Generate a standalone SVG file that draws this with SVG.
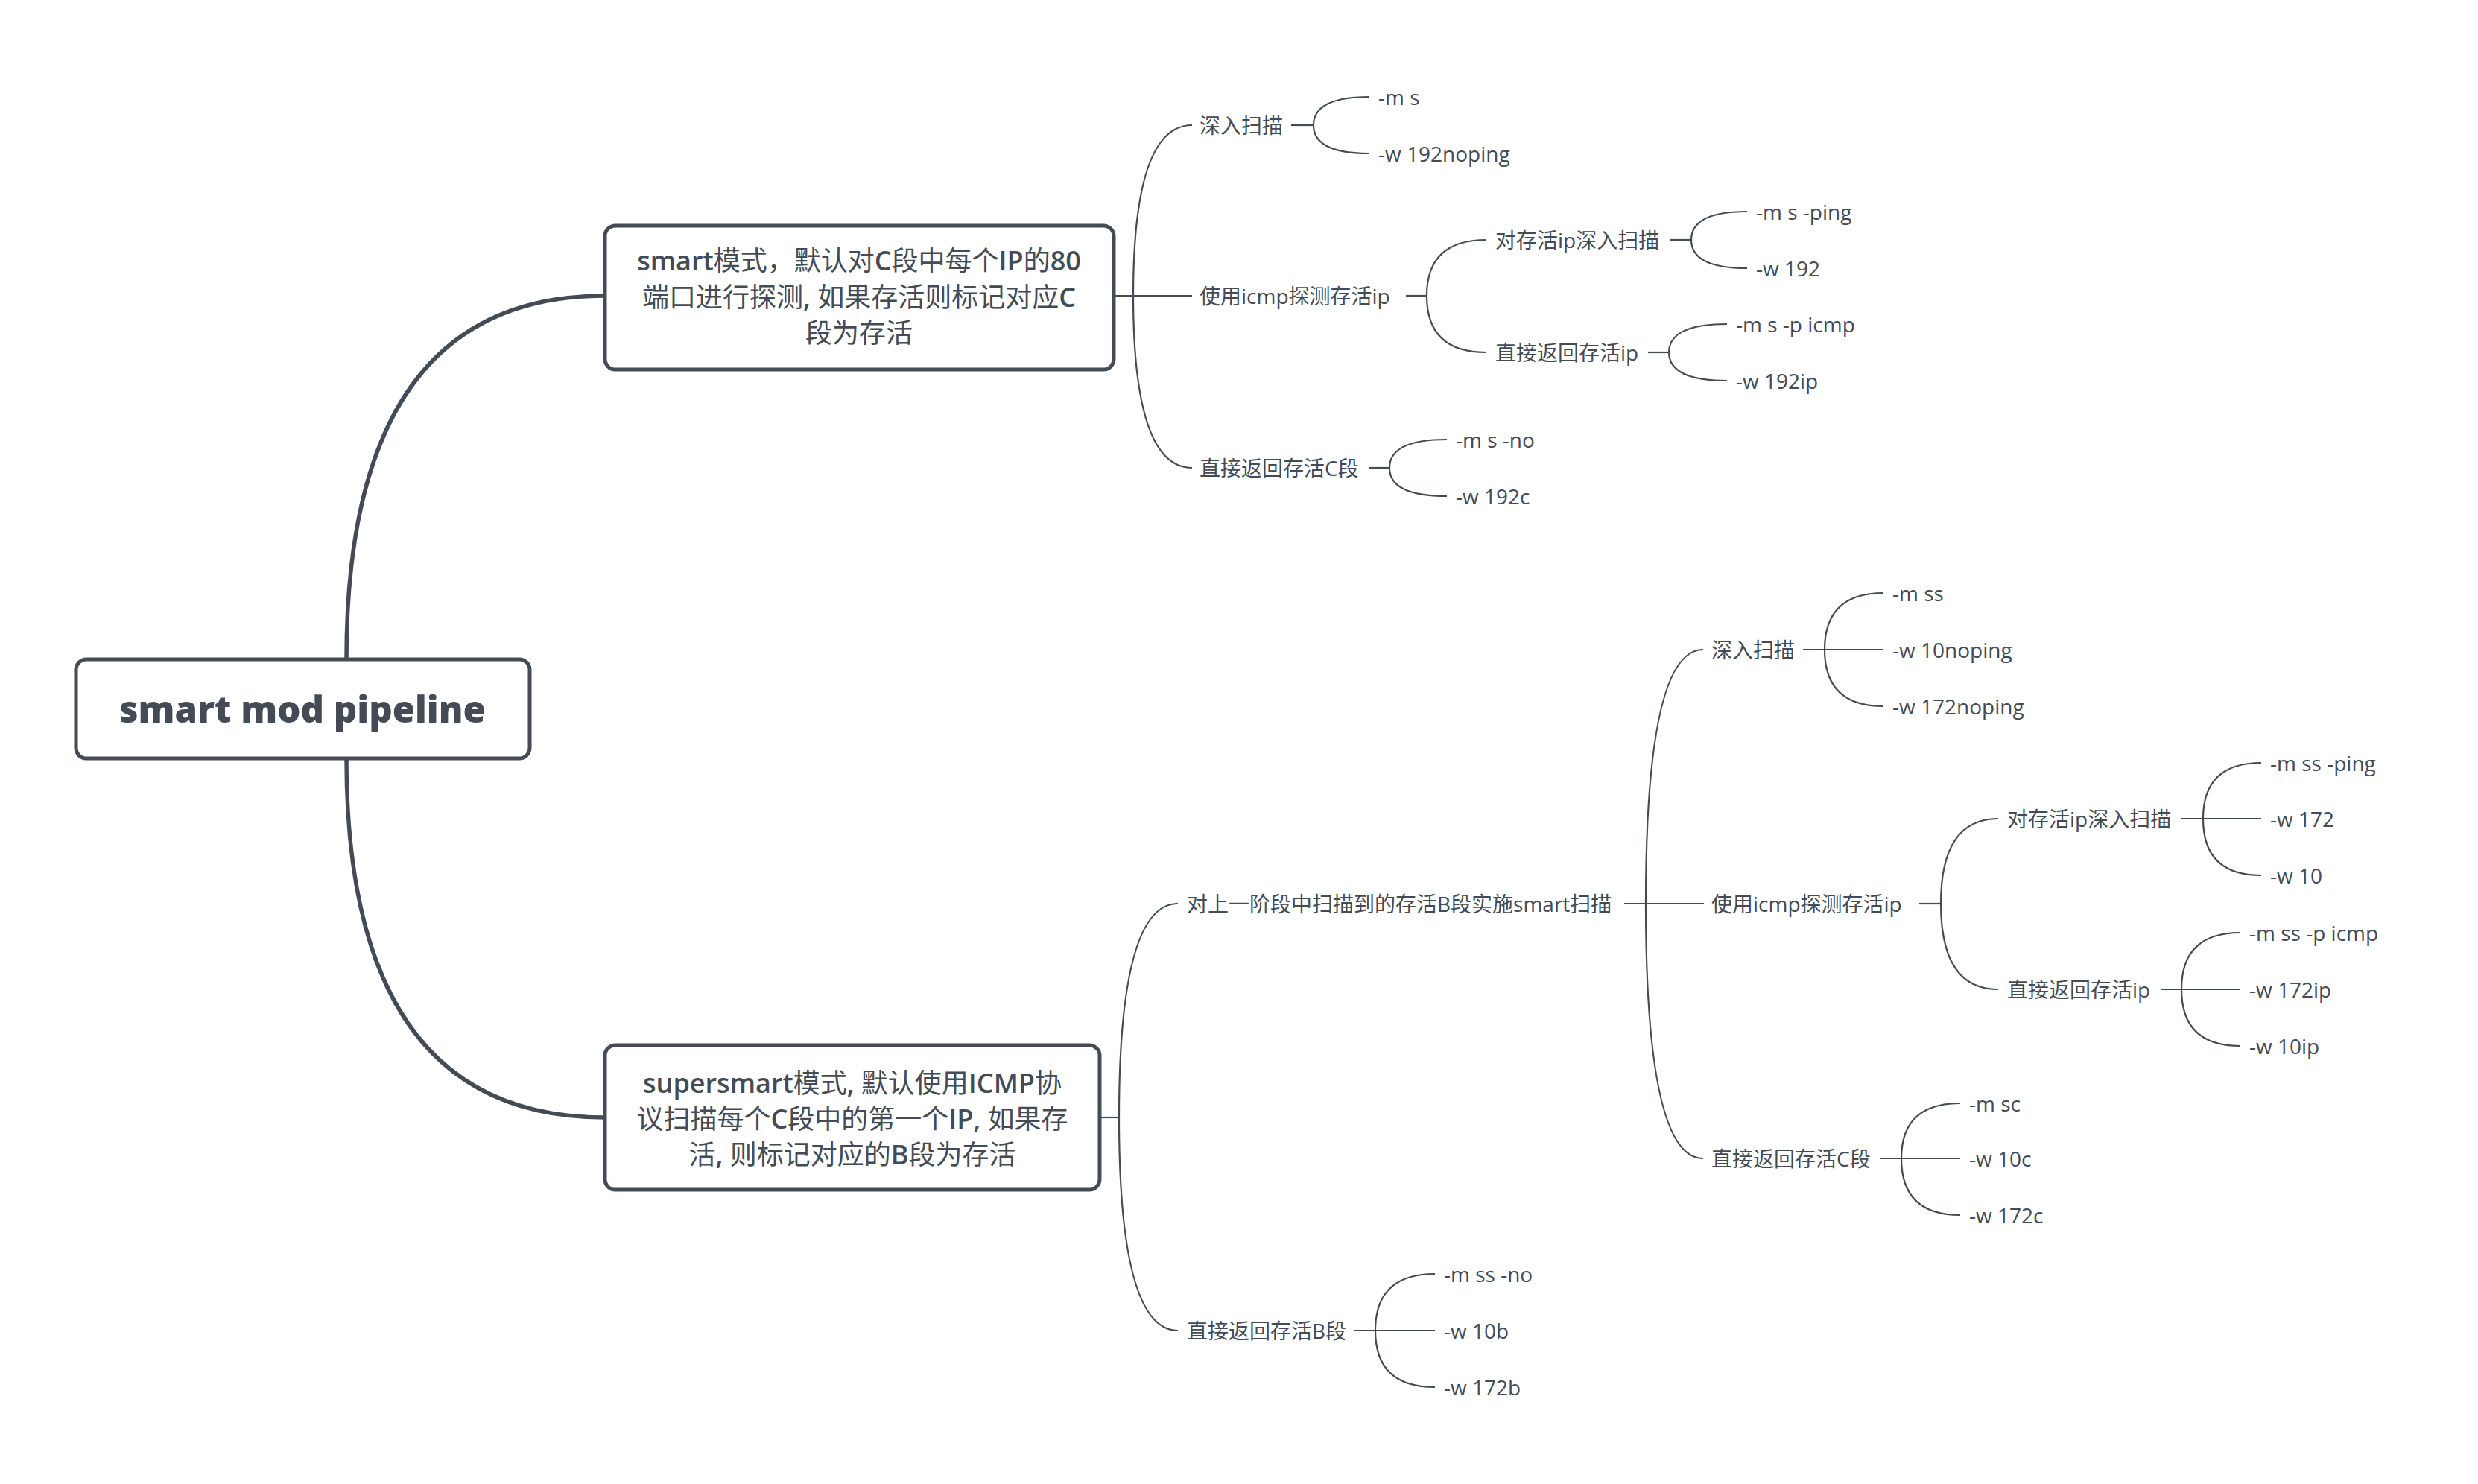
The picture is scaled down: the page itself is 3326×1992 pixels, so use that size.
<svg xmlns="http://www.w3.org/2000/svg" width="3326" height="1992" viewBox="0 0 3326 1992">
<style>
.t{font-family:"Open Sans","Noto Sans CJK SC",sans-serif;font-size:28px;fill:#444b55;dominant-baseline:central}
.m{font-size:36px;text-anchor:middle}
.b{font-weight:600}
.r{font-size:49px;font-weight:800;text-anchor:middle}
.box{fill:#ffffff;stroke:#444b55;stroke-width:5}
.c{fill:none;stroke:#444b55;stroke-width:2.2}
.k{fill:none;stroke:#444b55;stroke-width:5.5}
</style>
<rect width="3326" height="1992" fill="#ffffff"/>
<g id="connectors">
<path class="k" d="M465 885 Q465 397 812 397"/>
<path class="k" d="M465 1018 Q465 1500 812 1500"/>
<path class="c" d="M1495 397 H1600"/>
<path class="c" d="M1521 397 Q1521 168 1600 168"/>
<path class="c" d="M1521 397 Q1521 628 1600 628"/>
<path class="c" d="M1733 168 H1763"/>
<path class="c" d="M1763 168 Q1763 130 1838 130"/>
<path class="c" d="M1763 168 Q1763 206 1838 206"/>
<path class="c" d="M1887 397 H1915"/>
<path class="c" d="M1915 397 Q1915 322 1995 322"/>
<path class="c" d="M1915 397 Q1915 473 1995 473"/>
<path class="c" d="M2242 322 H2270"/>
<path class="c" d="M2270 322 Q2270 284 2345 284"/>
<path class="c" d="M2270 322 Q2270 360 2345 360"/>
<path class="c" d="M2212 473 H2240"/>
<path class="c" d="M2240 473 Q2240 435 2318 435"/>
<path class="c" d="M2240 473 Q2240 511 2318 511"/>
<path class="c" d="M1837 628 H1865"/>
<path class="c" d="M1865 628 Q1865 590 1942 590"/>
<path class="c" d="M1865 628 Q1865 666 1942 666"/>
<path class="c" d="M1476 1500 H1502"/>
<path class="c" d="M1502 1500 Q1502 1213 1581 1213"/>
<path class="c" d="M1502 1500 Q1502 1786 1581 1786"/>
<path class="c" d="M2180 1213 H2287"/>
<path class="c" d="M2209 1213 Q2209 872 2286 872"/>
<path class="c" d="M2209 1213 Q2209 1555 2286 1555"/>
<path class="c" d="M2420 872 H2528"/>
<path class="c" d="M2449 872 Q2449 796 2528 796"/>
<path class="c" d="M2449 872 Q2449 948 2528 948"/>
<path class="c" d="M2576 1213 H2605"/>
<path class="c" d="M2605 1213 Q2605 1099 2682 1099"/>
<path class="c" d="M2605 1213 Q2605 1328 2682 1328"/>
<path class="c" d="M2928 1099 H3035"/>
<path class="c" d="M2957 1099 Q2957 1024 3035 1024"/>
<path class="c" d="M2957 1099 Q2957 1175 3035 1175"/>
<path class="c" d="M2900 1328 H3007"/>
<path class="c" d="M2928 1328 Q2928 1252 3007 1252"/>
<path class="c" d="M2928 1328 Q2928 1404 3007 1404"/>
<path class="c" d="M2524 1555 H2631"/>
<path class="c" d="M2552 1555 Q2552 1481 2631 1481"/>
<path class="c" d="M2552 1555 Q2552 1631 2631 1631"/>
<path class="c" d="M1818 1786 H1926"/>
<path class="c" d="M1846 1786 Q1846 1710 1926 1710"/>
<path class="c" d="M1846 1786 Q1846 1862 1926 1862"/>
</g>
<g id="root">
<rect class="box" x="102" y="885" width="609" height="133" rx="14"/>
<text class="t r" x="406" y="951">smart mod pipeline</text>
</g>
<g id="smart">
<rect class="box" x="812" y="303" width="683" height="193" rx="14"/>
<text class="t m" x="1153" y="349"><tspan class="b">smart</tspan>模式，默认对<tspan class="b">C</tspan>段中每个<tspan class="b">IP</tspan>的<tspan class="b">80</tspan></text>
<text class="t m" x="1153" y="398">端口进行探测<tspan class="b">,</tspan> 如果存活则标记对应<tspan class="b">C</tspan></text>
<text class="t m" x="1153" y="446">段为存活</text>
</g>
<g id="supersmart">
<rect class="box" x="812" y="1403" width="664" height="194" rx="14"/>
<text class="t m" x="1144" y="1453"><tspan class="b">supersmart</tspan>模式<tspan class="b">,</tspan> 默认使用<tspan class="b">ICMP</tspan>协</text>
<text class="t m" x="1144" y="1501">议扫描每个<tspan class="b">C</tspan>段中的第一个<tspan class="b">IP,</tspan> 如果存</text>
<text class="t m" x="1144" y="1549">活<tspan class="b">,</tspan> 则标记对应的<tspan class="b">B</tspan>段为存活</text>
</g>
<g id="n-deep1"><text class="t" x="1610" y="168">深入扫描</text></g>
<g id="n-ms1"><text class="t" x="1850" y="130">-m s</text></g>
<g id="n-w192noping"><text class="t" x="1850" y="206">-w 192noping</text></g>
<g id="n-icmp1"><text class="t" x="1610" y="397">使用icmp探测存活ip</text></g>
<g id="n-alive1"><text class="t" x="2007" y="322">对存活ip深入扫描</text></g>
<g id="n-msping"><text class="t" x="2357" y="284">-m s -ping</text></g>
<g id="n-w192"><text class="t" x="2357" y="360">-w 192</text></g>
<g id="n-retip1"><text class="t" x="2007" y="473">直接返回存活ip</text></g>
<g id="n-mspicmp"><text class="t" x="2330" y="435">-m s -p icmp</text></g>
<g id="n-w192ip"><text class="t" x="2330" y="511">-w 192ip</text></g>
<g id="n-retc1"><text class="t" x="1610" y="628">直接返回存活C段</text></g>
<g id="n-msno"><text class="t" x="1954" y="590">-m s -no</text></g>
<g id="n-w192c"><text class="t" x="1954" y="666">-w 192c</text></g>
<g id="n-stage"><text class="t" x="1593" y="1213">对上一阶段中扫描到的存活B段实施smart扫描</text></g>
<g id="n-deep2"><text class="t" x="2297" y="872">深入扫描</text></g>
<g id="n-mss"><text class="t" x="2540" y="796">-m ss</text></g>
<g id="n-w10noping"><text class="t" x="2540" y="872">-w 10noping</text></g>
<g id="n-w172noping"><text class="t" x="2540" y="948">-w 172noping</text></g>
<g id="n-icmp2"><text class="t" x="2297" y="1213">使用icmp探测存活ip</text></g>
<g id="n-alive2"><text class="t" x="2694" y="1099">对存活ip深入扫描</text></g>
<g id="n-mssping"><text class="t" x="3047" y="1024">-m ss -ping</text></g>
<g id="n-w172"><text class="t" x="3047" y="1099">-w 172</text></g>
<g id="n-w10"><text class="t" x="3047" y="1175">-w 10</text></g>
<g id="n-retip2"><text class="t" x="2694" y="1328">直接返回存活ip</text></g>
<g id="n-msspicmp"><text class="t" x="3019" y="1252">-m ss -p icmp</text></g>
<g id="n-w172ip"><text class="t" x="3019" y="1328">-w 172ip</text></g>
<g id="n-w10ip"><text class="t" x="3019" y="1404">-w 10ip</text></g>
<g id="n-retc2"><text class="t" x="2297" y="1555">直接返回存活C段</text></g>
<g id="n-msc"><text class="t" x="2643" y="1481">-m sc</text></g>
<g id="n-w10c"><text class="t" x="2643" y="1555">-w 10c</text></g>
<g id="n-w172c"><text class="t" x="2643" y="1631">-w 172c</text></g>
<g id="n-retb"><text class="t" x="1593" y="1786">直接返回存活B段</text></g>
<g id="n-mssno"><text class="t" x="1938" y="1710">-m ss -no</text></g>
<g id="n-w10b"><text class="t" x="1938" y="1786">-w 10b</text></g>
<g id="n-w172b"><text class="t" x="1938" y="1862">-w 172b</text></g>
</svg>
